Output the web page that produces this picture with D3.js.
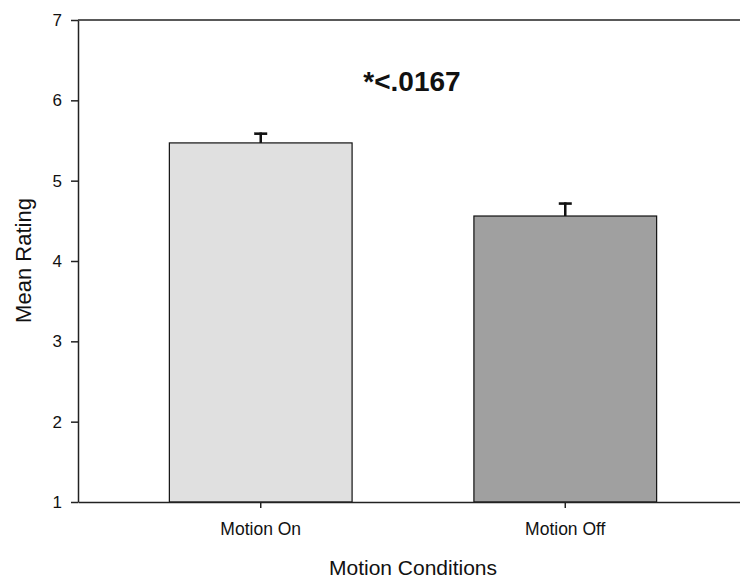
<!DOCTYPE html>
<html lang="en">
<head>
<meta charset="UTF-8">
<title>Mean Rating by Motion Condition</title>
<script src="https://d3js.org/d3.v7.min.js"></script>
<style>
    body { margin: 0; background: #fff; }
    svg text { font-family: "Liberation Sans", Arial, sans-serif; fill: #111; }
    .axis path, .axis line { stroke: #222; stroke-width: 1.5px; }
    .bar { stroke: #111; stroke-width: 1.2px; }
    .err { stroke: #111; fill: none; }
</style>
</head>
<body>
<svg width="740" height="578"></svg>
<script>
    // values
    var conditions = ["Motion On", "Motion Off"];
    var means = [5.47, 4.56];
    var errors = [0.13, 0.17];
    var barColors = ["#e0e0e0", "#a0a0a0"];
    var yTicks = [1, 2, 3, 4, 5, 6, 7];
    var note = "*<.0167";

    function drawChart() {
        var svg = d3.select("svg");
        var plotLeft = 78, plotRight = 748, plotTop = 20, plotBottom = 502;

        var x = d3.scaleBand()
            .domain(conditions)
            .range([plotLeft, plotRight])
            .paddingInner(0.4)
            .paddingOuter(0.3);

        var y = d3.scaleLinear()
            .domain([1, 7])
            .range([plotBottom, plotTop]);

        var data = conditions.map((c, i) => ({name: c, mean: means[i], err: errors[i], color: barColors[i]}));

        // bars
        svg.append("g")
            .selectAll("rect")
            .data(data)
            .enter()
            .append("rect")
            .attr("class", "bar")
            .attr("x", d => x(d.name))
            .attr("width", x.bandwidth())
            .attr("y", d => y(d.mean))
            .attr("height", d => y(1) - y(d.mean))
            .style("fill", d => d.color);

        // upper error bars
        var eg = svg.append("g");
        eg.selectAll("line.stem")
            .data(data)
            .enter()
            .append("line")
            .attr("class", "err stem")
            .attr("x1", d => x(d.name) + x.bandwidth() / 2)
            .attr("x2", d => x(d.name) + x.bandwidth() / 2)
            .attr("y1", d => y(d.mean))
            .attr("y2", d => y(d.mean + d.err))
            .style("stroke-width", "2.5px");
        eg.selectAll("line.cap")
            .data(data)
            .enter()
            .append("line")
            .attr("class", "err cap")
            .attr("x1", d => x(d.name) + x.bandwidth() / 2 - 6.5)
            .attr("x2", d => x(d.name) + x.bandwidth() / 2 + 6.5)
            .attr("y1", d => y(d.mean + d.err) + 1.2)
            .attr("y2", d => y(d.mean + d.err) + 1.2)
            .style("stroke-width", "2.6px");

        // axes
        svg.append("g")
            .attr("class", "axis")
            .attr("transform", "translate(" + plotLeft + ",0)")
            .call(d3.axisLeft(y).tickValues(yTicks).tickFormat(d3.format("d")).tickSize(7).tickSizeOuter(0).tickPadding(9))
            .call(g => g.selectAll("text").style("font-size", "17px"));

        svg.append("g")
            .attr("class", "axis")
            .attr("transform", "translate(0," + plotBottom + ")")
            .call(d3.axisBottom(x).tickSize(6).tickSizeOuter(0).tickPadding(15))
            .call(g => g.selectAll("text").style("font-size", "17.5px"));

        // top frame line
        svg.append("line")
            .attr("x1", plotLeft).attr("x2", plotRight)
            .attr("y1", y(7)).attr("y2", y(7))
            .style("stroke", "#222").style("stroke-width", "1.5px");

        // titles
        svg.append("text")
            .attr("x", (plotLeft + plotRight) / 2)
            .attr("y", 575)
            .style("text-anchor", "middle")
            .style("font-size", "21px")
            .text("Motion Conditions");

        svg.append("text")
            .attr("transform", "translate(31," + ((196 + 325) / 2) + ") rotate(-90)")
            .style("text-anchor", "middle")
            .style("font-size", "22px")
            .text("Mean Rating");

        svg.append("text")
            .attr("x", 412)
            .attr("y", 91)
            .style("text-anchor", "middle")
            .style("font-size", "28px")
            .style("font-weight", "bold")
            .text(note);
    }
    drawChart();
</script>
</body>
</html>
